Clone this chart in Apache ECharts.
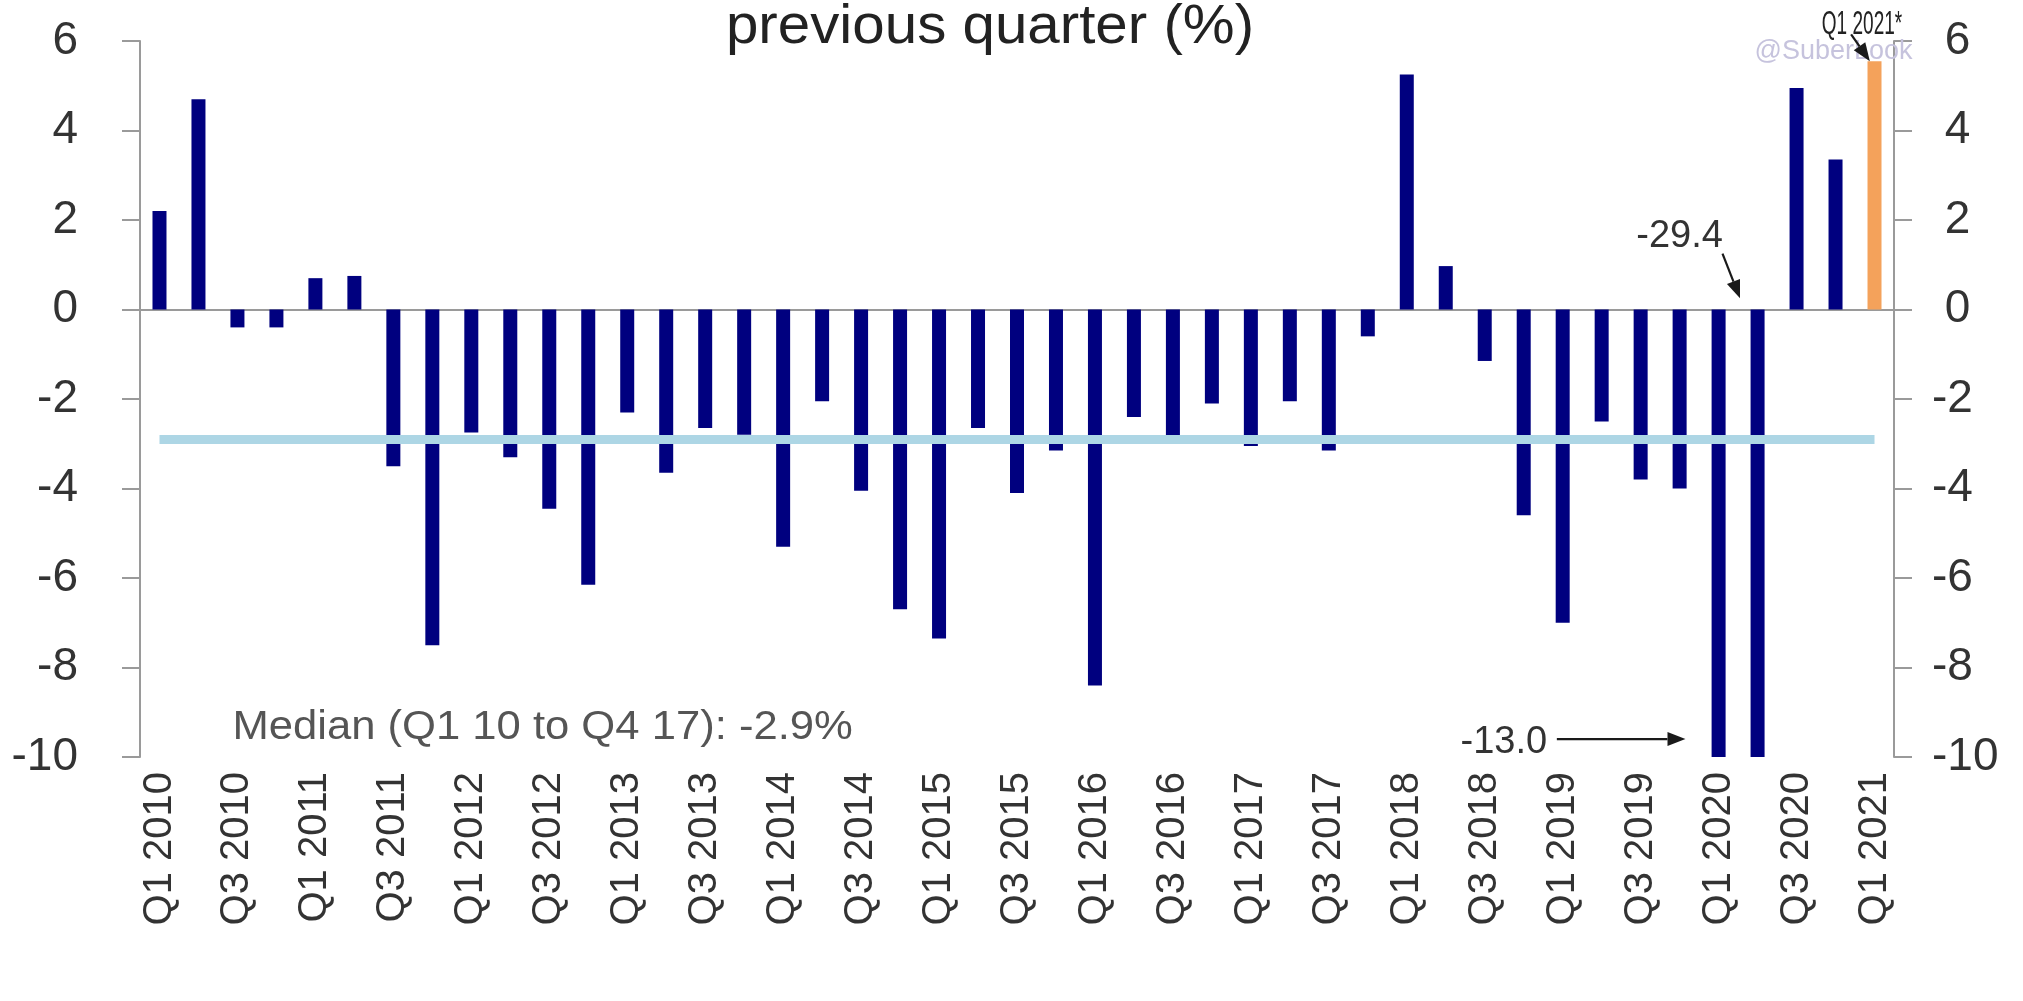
<!DOCTYPE html>
<html>
<head>
<meta charset="utf-8">
<title>Quarter-on-quarter change (%)</title>
<script src="https://cdn.jsdelivr.net/npm/echarts@6/dist/echarts.min.js"></script>
<style>
  html, body { margin: 0; padding: 0; background: #ffffff; }
  #chart { width: 2023px; height: 1001px; }
</style>
</head>
<body>
<div id="chart"></div>
<script>
// Quarter labels, Q1 2010 .. Q1 2021
const quarters = [
  'Q1 2010', 'Q2 2010', 'Q3 2010', 'Q4 2010',
  'Q1 2011', 'Q2 2011', 'Q3 2011', 'Q4 2011',
  'Q1 2012', 'Q2 2012', 'Q3 2012', 'Q4 2012',
  'Q1 2013', 'Q2 2013', 'Q3 2013', 'Q4 2013',
  'Q1 2014', 'Q2 2014', 'Q3 2014', 'Q4 2014',
  'Q1 2015', 'Q2 2015', 'Q3 2015', 'Q4 2015',
  'Q1 2016', 'Q2 2016', 'Q3 2016', 'Q4 2016',
  'Q1 2017', 'Q2 2017', 'Q3 2017', 'Q4 2017',
  'Q1 2018', 'Q2 2018', 'Q3 2018', 'Q4 2018',
  'Q1 2019', 'Q2 2019', 'Q3 2019', 'Q4 2019',
  'Q1 2020', 'Q2 2020', 'Q3 2020', 'Q4 2020',
  'Q1 2021'
];

// Change versus previous quarter (%)
const qoqChange = [
   2.2,  4.7, -0.4, -0.4,
   0.7,  0.75, -3.5, -7.5,
  -2.75, -3.3, -4.45, -6.15,
  -2.3, -3.65, -2.65, -2.8,
  -5.3, -2.05, -4.05, -6.7,
  -7.35, -2.65, -4.1, -3.15,
  -8.4, -2.4, -2.95, -2.1,
  -3.05, -2.05, -3.15, -0.6,
   5.25, 0.97, -1.15, -4.6,
  -7.0, -2.5, -3.8, -4.0,
  -13.0, -29.4, 4.95, 3.35,
   5.55
];

// Latest (estimated) quarter, drawn in orange
const estimateQuarter = 'Q1 2021';

// Median change Q1 10 to Q4 17 (%)
const medianQoq = -2.9;

// Value axis range and step
const yMin = -10;
const yMax = 6;
const yStep = 2;

const FONT = '"Liberation Sans", Arial, Helvetica, sans-serif';
const TEXT = '#333333';
const AXIS = '#9a9a9a';
const NAVY = '#00007f';
const ORANGE = '#f4a25b';
const MEDIAN = '#add6e5';

const chart = echarts.init(document.getElementById('chart'), null, { renderer: 'canvas' });

function valueAxis(position) {
  const left = position === 'left';
  return {
    type: 'value',
    position: position,
    min: yMin,
    max: yMax,
    interval: yStep,
    axisLine: { show: true, lineStyle: { color: AXIS, width: 2 } },
    axisTick: { show: true, length: 18, lineStyle: { color: AXIS, width: 2 } },
    splitLine: { show: false },
    axisLabel: {
      fontSize: 46,
      color: TEXT,
      fontFamily: FONT,
      margin: left ? 62 : 38,
      align: left ? 'right' : 'left',
      formatter: v => (left || v < 0) ? String(v) : ' ' + v
    }
  };
}

const lastIdx = quarters.length - 1;

chart.setOption({
  animation: false,
  backgroundColor: '#ffffff',
  grid: { left: 140, right: 129, top: 41, bottom: 244, containLabel: false },
  xAxis: [
    {
      type: 'category',
      data: quarters,
      boundaryGap: true,
      axisLine: { show: false, onZero: false },
      axisTick: { show: false },
      axisLabel: {
        interval: 1,
        rotate: 90,
        fontSize: 40,
        color: TEXT,
        fontFamily: FONT,
        margin: 15
      }
    },
    {
      // zero line
      type: 'category',
      data: quarters,
      position: 'bottom',
      axisLine: { show: true, onZero: true, lineStyle: { color: AXIS, width: 2 } },
      axisTick: { show: false },
      axisLabel: { show: false }
    }
  ],
  yAxis: [valueAxis('left'), valueAxis('right')],
  series: [
    {
      name: 'Change vs previous quarter',
      type: 'bar',
      xAxisIndex: 0,
      yAxisIndex: 0,
      barWidth: 14,
      clip: true,
      itemStyle: { color: NAVY },
      data: qoqChange.map((v, i) => quarters[i] === estimateQuarter
        ? { value: v, itemStyle: { color: ORANGE } }
        : v),
      markLine: {
        silent: true,
        symbol: ['none', 'none'],
        label: { show: false },
        z: 5,
        lineStyle: { color: MEDIAN, width: 9, type: 'solid' },
        data: [[
          { coord: [quarters[0], medianQoq] },
          { coord: [quarters[lastIdx], medianQoq] }
        ]]
      }
    }
  ]
});

// Annotations, placed through the chart's own axes
const idx = q => quarters.indexOf(q);
const toPx = (q, v) => chart.convertToPixel({ xAxisIndex: 0, yAxisIndex: 0 }, [idx(q), v]);
const step = toPx(quarters[1], 0)[0] - toPx(quarters[0], 0)[0];
const at = (q, offset, v) => { const p = toPx(q, v); return [p[0] + offset * step, p[1]]; };

function arrow(a, b) {
  const head = 18, half = 7;
  const dx = b[0] - a[0], dy = b[1] - a[1];
  const len = Math.hypot(dx, dy);
  const ux = dx / len, uy = dy / len;
  const base = [b[0] - ux * head, b[1] - uy * head];
  return [
    { type: 'line', z: 20, shape: { x1: a[0], y1: a[1], x2: base[0], y2: base[1] },
      style: { stroke: '#1a1a1a', lineWidth: 2.2 } },
    { type: 'polygon', z: 20, shape: { points: [
        b,
        [base[0] - uy * half, base[1] + ux * half],
        [base[0] + uy * half, base[1] - ux * half]
      ] }, style: { fill: '#1a1a1a' } }
  ];
}

// Text element; scaleX widens or narrows the glyphs about the anchor point
function label(pos, text, size, color, align, scaleX, z) {
  return {
    type: 'text', z: z || 20, x: pos[0], y: pos[1],
    scaleX: scaleX || 1, originX: 0, originY: 0,
    style: { text: text, fontSize: size, fontFamily: FONT, fill: color,
             align: align, verticalAlign: 'middle' }
  };
}

const q1_20 = 'Q1 2020', q2_20 = 'Q2 2020';
const titlePos = [990, 28];

chart.setOption({
  graphic: [
    label(titlePos, 'previous quarter (%)', 55, '#222222', 'center', 1.06),
    label(at(estimateQuarter, -1.05, 5.77), '@SuberLook', 27, '#c6c3dd', 'center', 1, 15),
    label(at(estimateQuarter, -0.32, 6.36), estimateQuarter + '*', 34, '#222222', 'center', 0.56),
    ...arrow(at(estimateQuarter, -0.6, 6.15), at(estimateQuarter, -0.12, 5.55)),
    label(at(q2_20, -2.0, 1.63), qoqChange[idx(q2_20)].toFixed(1), 38, TEXT, 'center'),
    ...arrow(at(q2_20, -0.9, 1.25), at(q2_20, -0.45, 0.25)),
    label(at(q1_20, -4.4, -9.67), qoqChange[idx(q1_20)].toFixed(1), 38, TEXT, 'right'),
    ...arrow(at(q1_20, -4.15, -9.6), at(q1_20, -0.85, -9.6)),
    label(at(quarters[0], 1.87, -9.36),
      'Median (Q1 10 to Q4 17): ' + medianQoq.toFixed(1) + '%', 40, '#555555', 'left', 1.09)
  ]
});
</script>
</body>
</html>
